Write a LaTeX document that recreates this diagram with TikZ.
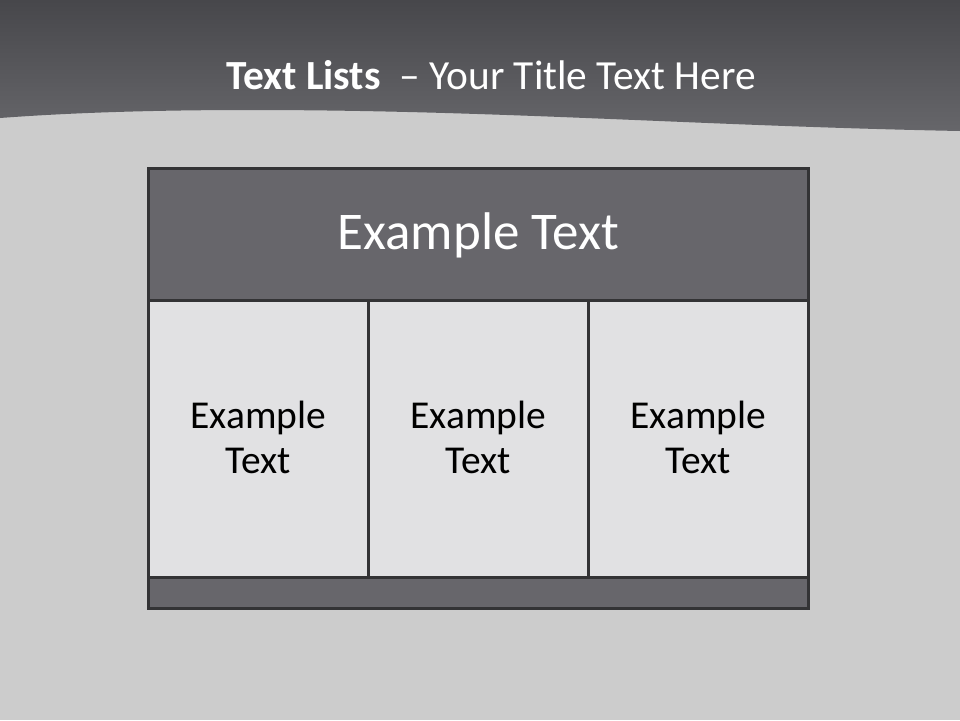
\documentclass[tikz,border=0pt]{standalone}
\usepackage{fontspec}
\setmainfont{Carlito}
\usepackage{tikz}
\definecolor{slidebg}{HTML}{CCCCCC}
\definecolor{bannertop}{HTML}{47474B}
\definecolor{bannerbot}{HTML}{66666A}
\definecolor{boxdark}{HTML}{67666B}
\definecolor{boxlight}{HTML}{E1E1E3}
\definecolor{boxline}{HTML}{333335}

\begin{document}
\begin{tikzpicture}[x=1pt, y=-1pt,
  cell/.style={draw=boxline, line width=3pt, rectangle, inner sep=0pt, outer sep=0pt,
    anchor=north west},
  darkcell/.style={cell, fill=boxdark, text=white},
  lightcell/.style={cell, fill=boxlight},
  celltext/.style={align=center, font=\fontsize{39.5}{45}\selectfont}
]
%% background
\useasboundingbox (0,0) rectangle (960,720);
\fill[slidebg] (0,0) rectangle (960,720);

%% banner
\shade[top color=bannertop, bottom color=bannerbot]
  (0,0) -- (960,0) -- (960,131)
  .. controls (700,126) and (500,110) .. (250,110)
  .. controls (120,110) and (40,115) .. (0,118) -- cycle;
\node[text=white, font=\fontsize{41.4}{47}\selectfont] (title) at (491,75)
  {\textbf{Text Lists}\ \ -- Your Title Text Here};

%% table
\node[darkcell, minimum width=660pt, minimum height=132pt] (head) at (148.5,168.5) {};
\node[text=white, font=\fontsize{53}{60}\selectfont] (headtxt) at ([yshift=-1pt]head.center) {Example Text};

\node[lightcell, minimum width=220pt, minimum height=277pt] (colA) at (148.5,300.5) {};
\node[lightcell, minimum width=220pt, minimum height=277pt] (colB) at (368.5,300.5) {};
\node[lightcell, minimum width=220pt, minimum height=277pt] (colC) at (588.5,300.5) {};
\node[celltext] (txtA) at ([yshift=2pt]colA.center) {Example\\Text};
\node[celltext] (txtB) at ([yshift=2pt]colB.center) {Example\\Text};
\node[celltext] (txtC) at ([yshift=2pt]colC.center) {Example\\Text};

\node[darkcell, minimum width=660pt, minimum height=31pt] (foot) at (148.5,577.5) {};
\end{tikzpicture}
\end{document}
